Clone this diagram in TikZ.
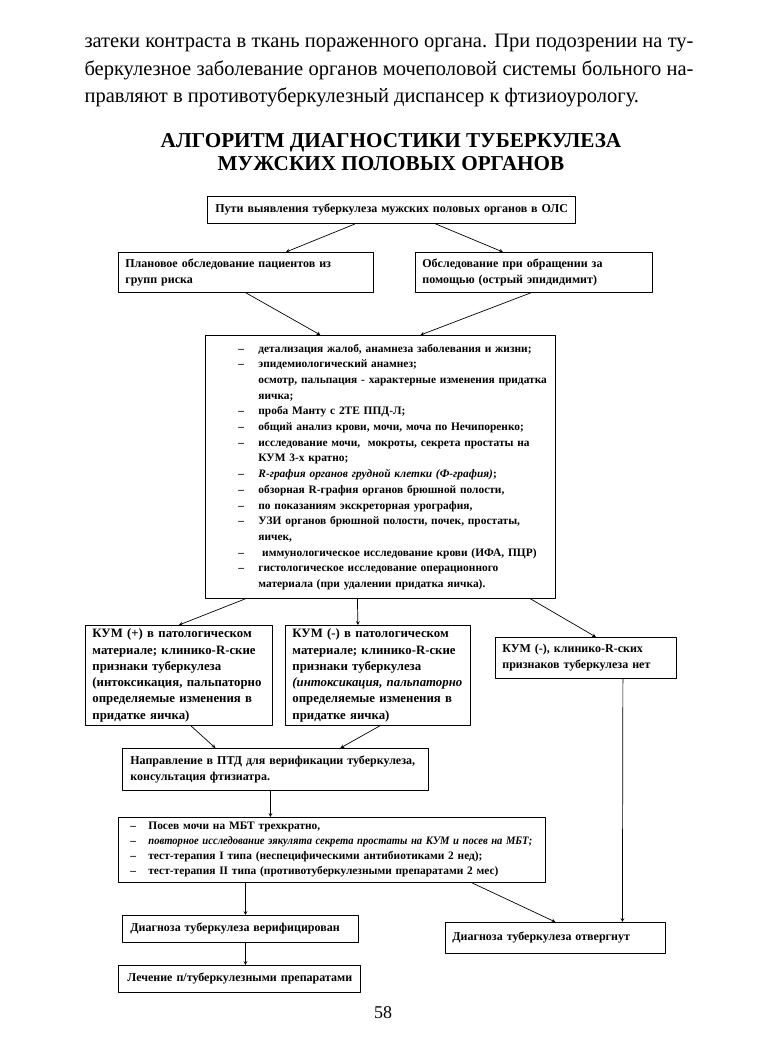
\documentclass[tikz,border=0pt]{standalone}
\usepackage{fontspec}
\usepackage{graphicx}
\setmainfont{Liberation Serif}
\newfontfamily\pagefont{Liberation Serif}
\usetikzlibrary{calc}
\tikzset{
  blk/.style={draw,line width=0.8pt,inner sep=0pt,anchor=north west,align=left,
    font=\fontsize{12}{16}\selectfont\bfseries},
  conn/.style={->,line width=0.7pt},
  pline/.style={anchor=base west,font=\pagefont\fontsize{20.5}{27}\selectfont},
  ttl/.style={anchor=base,font=\pagefont\fontsize{21.2}{23}\selectfont\bfseries},
}
\newcommand{\itm}{\makebox[20pt][l]{–}}
\newcommand{\nxt}{\hspace*{20pt}}
\newcommand{\itmb}{\makebox[18pt][l]{–}}
\begin{document}
\begin{tikzpicture}[x=1pt,y=-1pt,>=stealth,line join=round,line cap=round]
	\useasboundingbox[fill=white] (0,0) rectangle (782,1057);
	% text of the page
	\node[pline] (par1) at (81,48) {\makebox[609pt][s]{затеки контраста в ткань пораженного органа. При подозрении на ту-}};
	\node[pline] (par2) at (81,75) {\makebox[609pt][s]{беркулезное заболевание органов мочеполовой системы больного на-}};
	\node[pline] (par3) at (81,102) {правляют в противотуберкулезный диспансер к фтизиоурологу.};
	\node[ttl] (ttl1) at (391,147) {АЛГОРИТМ ДИАГНОСТИКИ ТУБЕРКУЛЕЗА};
	\node[ttl] (ttl2) at (391,170) {МУЖСКИХ ПОЛОВЫХ ОРГАНОВ};
	% boxes
	\node[blk,text width=368pt,minimum height=27pt] (ways) at (207,196) {\leftskip=8pt Пути выявления туберкулеза мужских половых органов в ОЛС\par};
	\node[blk,text width=255pt,minimum height=40pt] (plan) at (118,252) {\leftskip=7pt Плановое обследование пациентов из\\групп риска\par};
	\node[blk,text width=237pt,minimum height=40pt] (visit) at (415,252) {\leftskip=7pt Обследование при обращении за\\помощью (острый эпидидимит)\par};
	\node[blk,text width=350pt,minimum height=263pt,font=\fontsize{11.4}{15.7}\selectfont\bfseries] (exam) at (205,335) {\leftskip=33pt
		\itm детализация жалоб, анамнеза заболевания и жизни;\\
		\itm эпидемиологический анамнез;\\
		\nxt осмотр, пальпация - характерные изменения придатка\\
		\nxt яичка;\\
		\itm проба Манту с 2ТЕ ППД-Л;\\
		\itm общий анализ крови, мочи, моча по Нечипоренко;\\
		\itm исследование мочи,\ \ мокроты, секрета простаты на\\
		\nxt КУМ 3-х кратно;\\
		\itm \textit{R-графия органов грудной клетки (Ф-графия)};\\
		\itm обзорная R-графия органов брюшной полости,\\
		\itm по показаниям экскреторная урография,\\
		\itm УЗИ органов брюшной полости, почек, простаты,\\
		\nxt яичек,\\
		\itm \ иммунологическое исследование крови (ИФА, ПЦР)\\
		\itm гистологическое исследование операционного\\
		\nxt материала (при удалении придатка яичка).\par};
	\node[blk,text width=187pt,minimum height=100pt,font=\fontsize{12.8}{16.3}\selectfont\bfseries] (pos) at (85,625) {\leftskip=7pt КУМ (+) в патологическом\\материале; клинико-R-ские\\признаки туберкулеза\\(интоксикация, пальпаторно\\определяемые изменения в\\придатке яичка)\par};
	\node[blk,text width=185pt,minimum height=100pt,font=\fontsize{12.8}{16.3}\selectfont\bfseries] (negp) at (285,625) {\leftskip=7pt КУМ (-) в патологическом\\материале; клинико-R-ские\\признаки туберкулеза\\\textit{(интоксикация, пальпаторно}\\определяемые изменения в\\придатке яичка)\par};
	\node[blk,text width=181pt,minimum height=41pt] (neg) at (495,637) {\leftskip=7pt КУМ (-), клинико-R-ских\\признаков туберкулеза нет\par};
	\node[blk,text width=306pt,minimum height=42pt] (dir) at (122,748) {\leftskip=8pt Направление в ПТД для верификации туберкулеза,\\консультация фтизиатра.\par};
	\node[blk,text width=427pt,minimum height=65pt,font=\fontsize{11.4}{15}\selectfont\bfseries] (tests) at (118,817) {\leftskip=12pt
		\itmb Посев мочи на МБТ трехкратно,\\
		\itmb \scalebox{0.93}[1]{\textit{повторное исследование эякулята секрета простаты на КУМ и посев на МБТ;}}\\
		\itmb тест-терапия I типа (неспецифическими антибиотиками 2 нед);\\
		\itmb тест-терапия II типа (противотуберкулезными препаратами 2 мес)\par};
	\node[blk,text width=236pt,minimum height=27pt] (verif) at (122,915) {\leftskip=8pt Диагноза туберкулеза верифицирован\par};
	\node[blk,text width=220pt,minimum height=31pt] (rej) at (445,922) {\leftskip=7pt Диагноза туберкулеза отвергнут\par};
	\node[blk,text width=242pt,minimum height=27pt] (treat) at (118,965) {\leftskip=9pt Лечение п/туберкулезными препаратами\par};
	% connectors
	\draw[conn] ($(ways.south)+(-36,0)$) -- ($(plan.north)+(40,0)$);
	\draw[conn] ($(ways.south)+(44,0)$) -- ($(visit.north)+(-31,0)$);
	\draw[conn] (plan.south) -- ($(exam.north)+(-60,0)$);
	\draw[conn] ($(visit.south)+(-3,0)$) -- ($(exam.north)+(40,0)$);
	\draw[conn] ($(exam.south)+(-135,0)$) -- (pos.north);
	\draw[conn] ($(exam.south)+(-23,0)$) -- ($(negp.north)+(-20,0)$);
	\draw[conn] ($(exam.south)+(150,0)$) -- ($(neg.north)+(10,0)$);
	\draw[conn] ($(pos.south)+(12,0)$) -- ($(dir.north)+(-60,0)$);
	\draw[conn] ($(negp.south)+(2,0)$) -- ($(dir.north)+(65,0)$);
	\draw[conn] ($(dir.south)+(-5,0)$) -- ($(tests.north)+(-61.5,0)$);
	\draw[conn] ($(tests.south)+(-86.5,0)$) -- ($(verif.north)+(5,0)$);
	\draw[conn] ($(tests.south)+(140,0)$) -- (rej.north);
	\draw[conn] ($(neg.south)+(37,0)$) -- ($(rej.north)+(67,0)$);
	\draw[conn] ($(verif.south)+(5,0)$) -- ($(treat.north)+(6,0)$);
	% page number
	\node[anchor=base,font=\pagefont\fontsize{18}{20}\selectfont] (pnum) at (383,1018) {58};
\end{tikzpicture}
\end{document}
